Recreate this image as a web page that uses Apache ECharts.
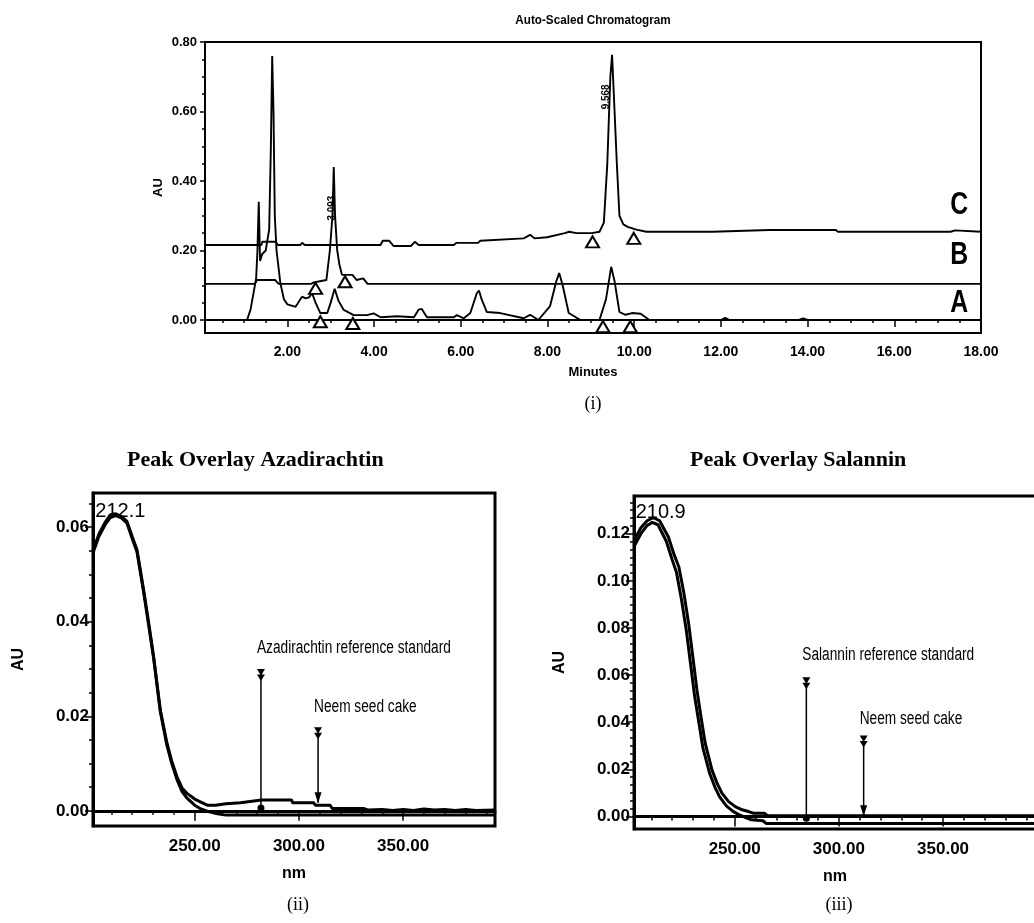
<!DOCTYPE html>
<html>
<head>
<meta charset="utf-8">
<script src="https://cdn.jsdelivr.net/npm/echarts@6/dist/echarts.min.js"></script>
<style>html,body{margin:0;padding:0;background:#fff}#chart{width:1034px;height:923px}</style>
</head>
<body>
<div id="chart"></div>
<script>
// ---- (i) chromatogram, [minutes, AU] ----
const traceA = [[0.1,0],[1.07,0],[1.15,0.03],[1.22,0.078],[1.28,0.12],[1.31,0.2],[1.34,0.34],[1.37,0.17],[1.42,0.19],[1.5,0.2],[1.58,0.26],[1.62,0.5],[1.65,0.76],[1.68,0.6],[1.71,0.3],[1.75,0.2],[1.84,0.105],[1.92,0.06],[2.0,0.045],[2.19,0.038],[2.3,0.06],[2.34,0.067],[2.42,0.062],[2.5,0.065],[2.57,0.077],[2.65,0.05],[2.76,0.02],[2.92,0.02],[3.0,0.05],[3.09,0.09],[3.18,0.055],[3.3,0.029],[3.53,0.014],[3.84,0.014],[3.99,0.019],[4.15,0.008],[4.53,0.011],[4.92,0.008],[5.03,0.03],[5.1,0.032],[5.22,0.008],[5.84,0.008],[5.91,0.014],[6.07,0.005],[6.22,0.02],[6.37,0.077],[6.42,0.085],[6.48,0.06],[6.6,0.023],[6.91,0.02],[7.45,0.005],[7.6,0.015],[7.79,0],[8.06,0.04],[8.2,0.11],[8.27,0.135],[8.35,0.1],[8.49,0.02],[8.76,0],[9.2,0],[9.35,0.06],[9.47,0.153],[9.55,0.11],[9.66,0.023],[9.8,0.015],[9.95,0.02],[10.15,0.018],[10.35,0],[12.0,0],[12.1,0.006],[12.2,0],[13.8,0],[13.9,0.005],[14.0,0],[18,0]];
const traceB = [[0.1,0.104],[1.25,0.104],[1.3,0.115],[1.72,0.115],[1.8,0.104],[2.55,0.104],[2.6,0.108],[2.9,0.115],[2.98,0.2],[3.04,0.3],[3.07,0.44],[3.1,0.3],[3.15,0.2],[3.2,0.16],[3.26,0.13],[3.5,0.13],[3.6,0.115],[3.75,0.12],[3.85,0.104],[18,0.104]];
const traceC = [[0.1,0.216],[1.4,0.216],[1.42,0.225],[1.73,0.225],[1.78,0.216],[2.3,0.216],[2.34,0.222],[2.4,0.216],[4.15,0.216],[4.2,0.228],[4.35,0.228],[4.45,0.213],[4.85,0.213],[4.94,0.225],[5.03,0.216],[5.84,0.216],[5.9,0.222],[6.4,0.222],[6.45,0.228],[7.45,0.235],[7.6,0.245],[7.7,0.235],[7.99,0.238],[8.4,0.25],[8.5,0.254],[8.67,0.25],[9.02,0.25],[9.2,0.254],[9.3,0.28],[9.38,0.45],[9.45,0.7],[9.49,0.763],[9.53,0.65],[9.6,0.45],[9.66,0.3],[9.75,0.275],[9.85,0.268],[10.05,0.26],[10.28,0.254],[11.7,0.254],[11.74,0.259],[11.8,0.254],[13.12,0.259],[14.65,0.259],[14.7,0.254],[17.3,0.254],[17.4,0.258],[18,0.254]];
const peakMarksA = [[2.76,-0.005],[3.51,-0.01],[9.28,-0.019],[9.91,-0.019]];
const peakMarksB = [[2.65,0.091],[3.33,0.11]];
const peakMarksC = [[9.04,0.225],[9.99,0.235]];
const chromTicksX = [2,4,6,8,10,12,14,16,18];
const chromTicksY = [0,0.2,0.4,0.6,0.8];
const traceNames = [[17.5,0.331,'C'],[17.5,0.187,'B'],[17.5,0.049,'A']];
const rtLabels = [[3.02,0.322,'3.093'],[9.35,0.642,'9.568']];

// ---- (ii) azadirachtin spectra, [nm, AU] ----
const azaStandard = [[201.2,0.055],[204,0.0585],[207,0.061],[209.5,0.0626],[212.1,0.0628],[215,0.0622],[217.5,0.0612],[220,0.058],[222.3,0.0552],[225.5,0.0467],[228,0.0395],[230.3,0.0326],[233.5,0.0213],[236.7,0.0143],[239,0.0105],[241.5,0.0072],[244,0.0048],[246.3,0.0037],[250,0.0025],[252.7,0.0019],[256,0.0012],[260,0.0012],[265,0.0015],[272,0.0017],[282,0.0023],[296.5,0.0023],[297,0.0017],[307,0.0017],[308,0.0012],[315,0.0012],[316,0.0005],[331,0.0005],[333,0.0002],[340,0.0003],[345,0.0001],[350,0.0003],[355,0.0001],[360,0.0004],[365,0.0002],[370,0.0003],[375,0.0001],[380,0.0003],[385,0.0001],[394.1,0.0002]];
const azaCake = [[201.2,0.0545],[204,0.058],[207,0.0605],[209.5,0.062],[212.1,0.0624],[215,0.0619],[217.5,0.0608],[220,0.0576],[222.3,0.0548],[225.5,0.0462],[228,0.039],[230.3,0.0322],[233.5,0.021],[236.7,0.0138],[239,0.01],[241.5,0.0066],[244,0.004],[246.3,0.0027],[250,0.0012],[253,0.0004],[257,-0.0002],[261,-0.0006],[265,-0.0009],[394.1,-0.0009]];
const azaTicksY = [0,0.02,0.04,0.06];
const azaMarkers = [
  {x:281.8, top:0.0287, bottom:0.0006, end:'dot', text:'Azadirachtin reference standard', textY:0.0344},
  {x:309.2, top:0.0164, bottom:0.0017, end:'arrow', text:'Neem seed cake', textY:0.022}
];
const azaPeak = [214.3, 0.0632, '212.1'];

// ---- (iii) salannin spectra, [nm, AU] ----
const salStandard = [[201.7,0.117],[205,0.1225],[208,0.1255],[211,0.1268],[214,0.1255],[218.2,0.1186],[221,0.111],[223.2,0.106],[225.6,0.095],[227.9,0.082],[229.9,0.068],[231.9,0.0537],[233.9,0.042],[235.9,0.031],[239.1,0.0198],[241.6,0.014],[243.9,0.0099],[247.1,0.0063],[250.3,0.0042],[253.1,0.003],[256.7,0.0021],[259,0.0014],[264.2,0.0014],[265.8,0.0003],[394.6,0.0003]];
const salCake = [[201.7,0.1145],[205,0.12],[208,0.1235],[210.5,0.1248],[213.2,0.1238],[217.2,0.1168],[220,0.109],[222.1,0.1035],[224.5,0.092],[226.8,0.079],[228.8,0.065],[230.8,0.051],[232.8,0.04],[234.8,0.029],[238,0.0183],[240.5,0.0125],[242.8,0.0083],[246,0.0045],[249.2,0.0022],[252,0.0008],[255.6,-0.0006],[258,-0.0014],[263.6,-0.0018],[265.2,-0.003],[394.6,-0.003]];
const salTicksY = [0,0.02,0.04,0.06,0.08,0.1,0.12];
const salMarkers = [
  {x:284.4, top:0.0565, bottom:-0.0007, end:'dot', text:'Salannin reference standard', textY:0.0684},
  {x:311.9, top:0.0318, bottom:0.0003, end:'arrow', text:'Neem seed cake', textY:0.0414}
];
const salPeak = [214.5, 0.1291, '210.9'];
const nmTicks = [250,300,350];

const SANS = '"Liberation Sans", Arial, sans-serif';
const SERIF = '"Liberation Serif", "Times New Roman", serif';
const CHEVRON = 'path://M0,0L10,0L5,6ZM0,5L10,5L5,11Z';
const ARROW = 'path://M0,0L10,0L5,14Z';

function steps(from, to, step) {
  const out = [];
  for (let v = from; v <= to + 1e-9; v += step) out.push(+v.toFixed(6));
  return out;
}

const chart = echarts.init(document.getElementById('chart'), null, {renderer: 'canvas'});

function mainX(grid, min, max, ticks, o) {
  return {
    gridIndex: grid, type: 'value', position: 'bottom', min, max,
    axisLine: {lineStyle: {color: '#000', width: o.lw}},
    axisTick: {customValues: ticks, length: o.tl, lineStyle: {color: '#000', width: 1.5}},
    axisLabel: {customValues: ticks, formatter: v => v.toFixed(2), color: '#000', fontWeight: 'bold',
      fontFamily: SANS, fontSize: o.fs, margin: o.margin},
    splitLine: {show: false},
    name: o.name, nameLocation: 'middle', nameGap: o.nameGap, nameMoveOverlap: false,
    nameTextStyle: {color: '#000', fontWeight: 'bold', fontFamily: SANS, fontSize: o.nfs}
  };
}
function mainY(grid, min, max, ticks, o) {
  return {
    gridIndex: grid, type: 'value', position: 'left', min, max,
    axisLine: {lineStyle: {color: '#000', width: o.lw}},
    axisTick: {customValues: ticks, length: o.tl, lineStyle: {color: '#000', width: 1.5}},
    axisLabel: {customValues: ticks, formatter: v => v.toFixed(2), color: '#000', fontWeight: 'bold',
      fontFamily: SANS, fontSize: o.fs, margin: o.margin},
    splitLine: {show: false},
    name: 'AU', nameLocation: 'middle', nameRotate: 90, nameGap: o.nameGap, nameMoveOverlap: false,
    nameTextStyle: {color: '#000', fontWeight: 'bold', fontFamily: SANS, fontSize: o.nfs}
  };
}
function minorAxis(kind, grid, min, max, ticks, len) {
  return {
    gridIndex: grid, type: 'value', position: kind === 'x' ? 'bottom' : 'left', min, max,
    axisLine: {show: false}, axisLabel: {show: false}, splitLine: {show: false},
    axisTick: {customValues: ticks, length: len, lineStyle: {color: '#000', width: 1.5}}
  };
}

function lineSeries(data, xi, width) {
  return {type: 'line', xAxisIndex: xi, yAxisIndex: xi, data, showSymbol: false, symbol: 'none',
    lineStyle: {color: '#000', width}, silent: true, z: 3};
}
function markerSeries(m, xi) {
  const dot = m.end === 'dot';
  return {type: 'line', xAxisIndex: xi, yAxisIndex: xi, silent: true, z: 5,
    lineStyle: {color: '#000', width: 1.5}, itemStyle: {color: '#000'},
    data: [
      {value: [m.x, m.top], symbol: CHEVRON, symbolSize: [8, 12]},
      {value: [m.x, m.bottom], symbol: dot ? 'circle' : ARROW, symbolSize: dot ? 7 : [7, 11], symbolOffset: dot ? [0, 0] : [0, -5]}
    ]};
}

const series = [
  lineSeries(traceA, 0, 1.9),
  lineSeries(traceB, 0, 1.9),
  lineSeries(traceC, 0, 1.9),
  {type: 'scatter', xAxisIndex: 0, yAxisIndex: 0, silent: true, z: 5, symbol: 'triangle', symbolSize: [13, 11],
    itemStyle: {color: '#fff', borderColor: '#000', borderWidth: 2, opacity: 1},
    data: peakMarksA.concat(peakMarksB, peakMarksC)},
  lineSeries(azaStandard, 2, 3),
  lineSeries(azaCake, 2, 3),
  ...azaMarkers.map(m => markerSeries(m, 2)),
  lineSeries(salStandard, 4, 3),
  lineSeries(salCake, 4, 3),
  ...salMarkers.map(m => markerSeries(m, 4))
];

function txt(x, y, text, font, align, extra) {
  return Object.assign({type: 'text', x, y, silent: true, z: 10,
    style: {text, font, fill: '#000', align: align || 'center', verticalAlign: 'middle',
      textAlign: align || 'center', textVerticalAlign: 'middle'}}, extra || {});
}

chart.setOption({
  animation: false,
  backgroundColor: '#fff',
  grid: [
    {left: 205, top: 42, width: 776, height: 291, show: true, borderColor: '#000', borderWidth: 2, outerBoundsMode: 'none', containLabel: false},
    {left: 93, top: 493, width: 402, height: 333, show: true, borderColor: '#000', borderWidth: 3, outerBoundsMode: 'none', containLabel: false},
    {left: 634, top: 496, width: 402, height: 333, show: true, borderColor: '#000', borderWidth: 3, outerBoundsMode: 'none', containLabel: false}
  ],
  xAxis: [
    mainX(0, 0.1, 18, chromTicksX, {lw: 2, tl: 7, fs: 14, margin: 12, name: 'Minutes', nameGap: 33, nfs: 13}),
    minorAxis('x', 0, 0.1, 18, steps(0.5, 17.5, 0.5), 3),
    mainX(1, 201.2, 394.1, nmTicks, {lw: 3, tl: 10, fs: 17, margin: 12, name: 'nm', nameGap: 40, nfs: 16}),
    minorAxis('x', 1, 201.2, 394.1, steps(210, 390, 10), 4),
    mainX(2, 201.7, 394.6, nmTicks, {lw: 3, tl: 10, fs: 17, margin: 12, name: 'nm', nameGap: 40, nfs: 16}),
    minorAxis('x', 2, 201.7, 394.6, steps(210, 390, 10), 4)
  ],
  yAxis: [
    mainY(0, -0.0374, 0.8, chromTicksY, {lw: 2, tl: 5, fs: 13, margin: 8, nameGap: 40, nfs: 13}),
    minorAxis('y', 0, -0.0374, 0.8, steps(0.05, 0.75, 0.05), 3),
    mainY(1, -0.0032, 0.0672, azaTicksY, {lw: 3, tl: 8, fs: 17, margin: 4, nameGap: 66, nfs: 16}),
    minorAxis('y', 1, -0.0032, 0.0672, steps(0.005, 0.065, 0.005), 4),
    mainY(2, -0.0053, 0.136, salTicksY, {lw: 3, tl: 8, fs: 17, margin: 4, nameGap: 66, nfs: 16}),
    minorAxis('y', 2, -0.0053, 0.136, steps(0.02 / 6, 0.135, 0.02 / 6), 4)
  ],
  series
});

// texts tied to data coordinates, condensed like the original figure
function at(axis, pt) { return chart.convertToPixel({xAxisIndex: axis, yAxisIndex: axis}, pt); }
const graphic = [
  txt(593, 20, 'Auto-Scaled Chromatogram', 'bold 13px ' + SANS, 'center', {scaleX: 0.9}),
  txt(593, 404, '(i)', '18px ' + SERIF),
  txt(127, 460, 'Peak Overlay Azadirachtin', 'bold 22px ' + SERIF, 'left'),
  txt(690, 460, 'Peak Overlay Salannin', 'bold 22px ' + SERIF, 'left'),
  txt(298, 905, '(ii)', '18px ' + SERIF),
  txt(839, 905, '(iii)', '18px ' + SERIF)
];
traceNames.forEach(d => {
  const p = at(0, [d[0], d[1]]);
  graphic.push(txt(p[0], p[1], d[2], 'bold 31px ' + SANS, 'center', {scaleX: 0.8}));
});
rtLabels.forEach(d => {
  const p = at(0, [d[0], d[1]]);
  graphic.push(txt(p[0], p[1], d[2], 'bold 11px ' + SANS, 'center', {rotation: Math.PI / 2, scaleX: 0.9}));
});
[[2, azaMarkers, azaPeak], [4, salMarkers, salPeak]].forEach(([axis, markers, peak]) => {
  markers.forEach(m => {
    const p = at(axis, [m.x, m.textY]);
    graphic.push(txt(p[0] - 4, p[1], m.text, '18px ' + SANS, 'left', {scaleX: 0.76}));
  });
  const q = at(axis, [peak[0], peak[1]]);
  graphic.push(txt(q[0], q[1], peak[2], '20px ' + SANS, 'center'));
});
chart.setOption({graphic});
</script>
</body>
</html>
